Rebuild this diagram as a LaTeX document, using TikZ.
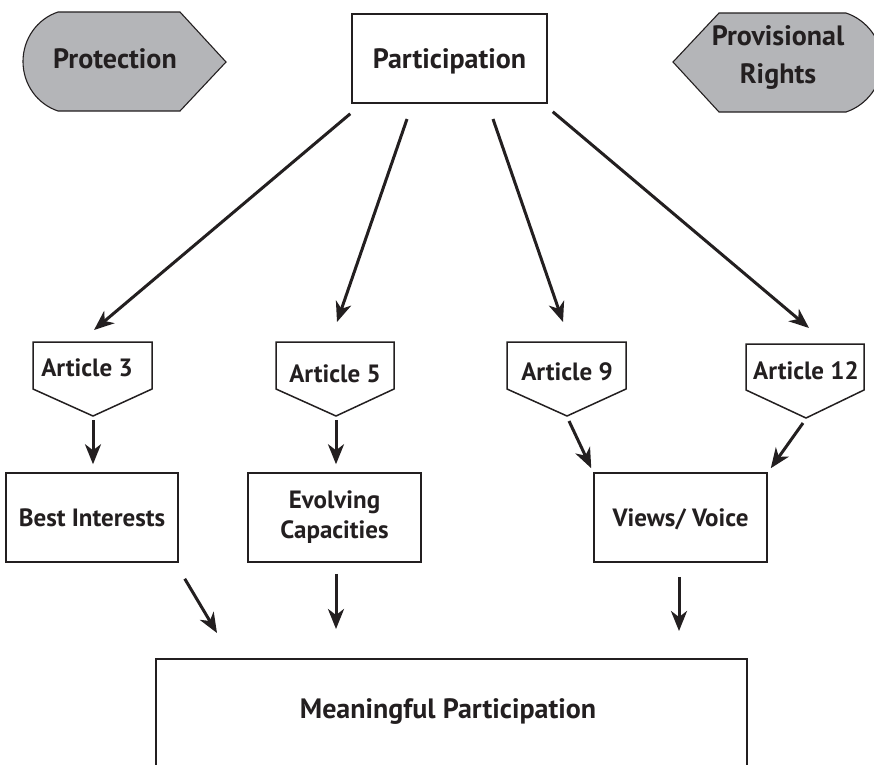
\documentclass[tikz,border=0pt]{standalone}
\usepackage{fontspec}
\setmainfont{PT Sans}
\usetikzlibrary{arrows.meta}
\definecolor{ink}{RGB}{35,31,32}
\definecolor{shade}{RGB}{180,181,184}
\begin{document}
\begin{tikzpicture}[x=1pt,y=-1pt,
  box/.style={draw=ink, line width=1.5pt, fill=white, inner sep=0pt},
  sml/.style={text=ink, font=\bfseries\fontsize{25}{30}\selectfont, inner sep=0pt, align=center},
  big/.style={text=ink, font=\bfseries\fontsize{28}{38}\selectfont, inner sep=0pt, align=center},
  arr/.style={draw=ink, line width=3pt, -{Stealth[length=20pt,width=16pt,inset=6pt]}},
  tag/.style={draw=ink, line width=1.1pt, fill=shade},
  pent/.style={draw=ink, line width=1.5pt, fill=white}]
\clip (0,0) rectangle (874,764);
\fill[white] (0,0) rectangle (874,764);

% top row
\path[tag] (58,12) -- (180,12) -- (226,62) -- (180,111) -- (58,111)
  .. controls (37,104) and (23,84) .. (23,61.5)
  .. controls (23,39) and (37,19) .. (58,12) -- cycle;
\node[big, anchor=base] (prot) at (115,68) {Protection};

\path[tag] (719,13) -- (846,13)
  .. controls (867,20) and (882,40) .. (882,62.5)
  .. controls (882,85) and (867,105) .. (846,112) -- (719,112) -- (673,62) -- cycle;
\node[big] (prov) at (778,58) {Provisional\\Rights};

\node[box, big, minimum width=195, minimum height=89, text height=19.6pt, text depth=0pt] (part) at (449.5,58.5) {Participation};

% articles
\path[pent] (33,342) -- (152,342) -- (152,389) -- (93,416) -- (33,389) -- cycle;
\node[sml, anchor=base] (a3) at (87,376) {Article 3};
\coordinate (a3tip) at (93,416);
\path[pent] (276,342) -- (394,342) -- (394,389) -- (336,416) -- (276,389) -- cycle;
\node[sml, anchor=base] (a5) at (335,382) {Article 5};
\coordinate (a5tip) at (336,416);
\path[pent] (507,342) -- (626,342) -- (626,389) -- (567,416) -- (507,389) -- cycle;
\node[sml, anchor=base] (a9) at (567,380) {Article 9};
\coordinate (a9tip) at (567,416);
\path[pent] (746,344) -- (864,344) -- (864,390) -- (806,418) -- (746,390) -- cycle;
\node[sml, anchor=base] (a12) at (806,379) {Article 12};
\coordinate (a12tip) at (806,418);

% middle boxes
\node[box, sml, minimum width=172, minimum height=89, text height=17.5pt, text depth=0pt] (best) at (92,517.5) {Best Interests};
\node[box, sml, minimum width=173, minimum height=89] (evol) at (334.5,517.5) {Evolving\\Capacities};
\node[box, sml, minimum width=173, minimum height=89, text height=17.5pt, text depth=0pt] (view) at (680.5,517.5) {Views/ Voice};

% bottom box
\node[box, minimum width=591, minimum height=120] (mp) at (451.5,719) {};
\node[big, anchor=base] (mptext) at (448,718) {Meaningful Participation};

% arrow end points
\coordinate (e1) at (94,330);
\coordinate (e2) at (337,322);
\coordinate (e3) at (563,322);
\coordinate (e4) at (809,328);
\coordinate (e9) at (217,633);
\coordinate (e10) at (336,629);
\coordinate (e11) at (679,631);

\draw[arr] ([xshift=-1pt,yshift=-10pt]part.south west) -- (e1);
\draw[arr] (407,119) -- (e2);
\draw[arr] (493,119) -- (e3);
\draw[arr] ([xshift=5pt,yshift=-8pt]part.south east) -- (e4);

\draw[arr] ([yshift=-4pt]a3tip) -- ([yshift=8pt]best.north -| a3tip);
\draw[arr] ([yshift=-4pt]a5tip) -- ([yshift=8pt]evol.north -| a5tip);
\draw[arr] ([xshift=2pt,yshift=-5pt]a9tip) -- ([xshift=-2pt,yshift=4pt]view.north west);
\draw[arr] ([xshift=-3pt,yshift=-5pt]a12tip) -- ([xshift=3pt,yshift=4pt]view.north east);

\draw[arr] ([xshift=6pt,yshift=-16pt]best.south east) -- (e9);
\draw[arr] ([yshift=-11pt]evol.south -| e10) -- (e10);
\draw[arr] ([yshift=-14pt]view.south -| e11) -- (e11);
\end{tikzpicture}
\end{document}
